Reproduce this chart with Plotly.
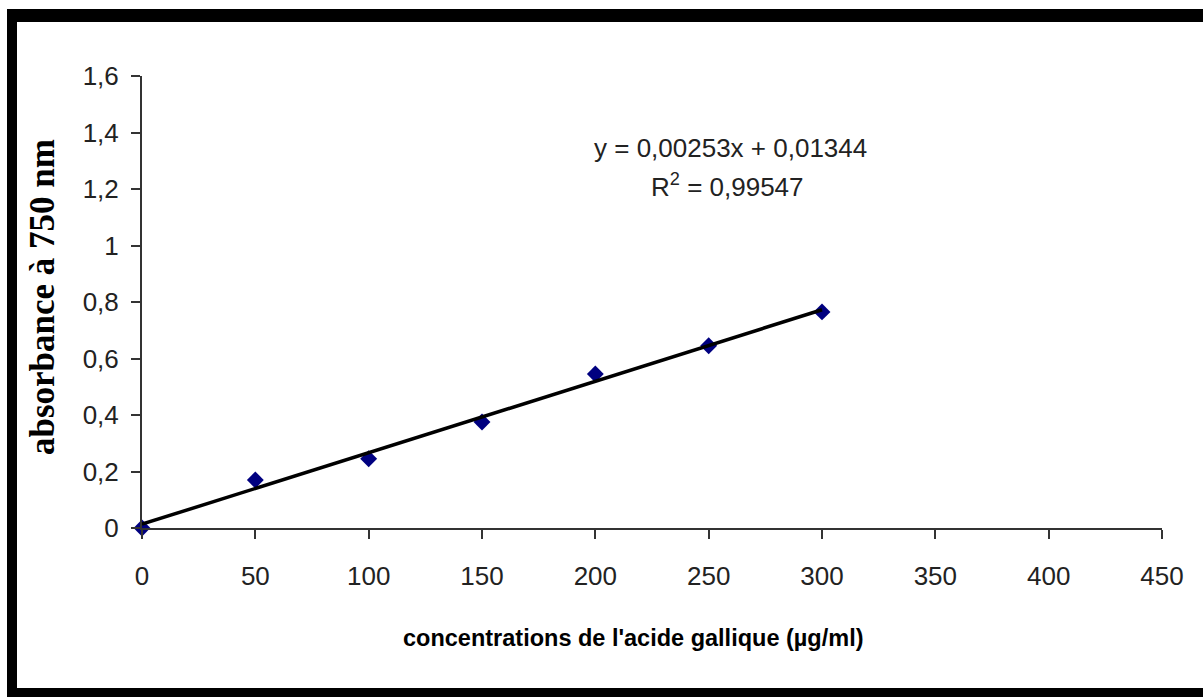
import plotly.graph_objects as go

# Data
concentrations = [0, 50, 100, 150, 200, 250, 300]
absorbance = [0.0, 0.17, 0.245, 0.375, 0.545, 0.645, 0.765]
slope = 0.00253
intercept = 0.01344
r_squared = 0.99547
x_ticks = [0, 50, 100, 150, 200, 250, 300, 350, 400, 450]
y_ticks = [0, 0.2, 0.4, 0.6, 0.8, 1.0, 1.2, 1.4, 1.6]

W, H = 1203, 697
L, R, T, B = 142, 1162, 76, 528

def px(x):
    return (x - L) / (R - L)

def py(y):
    return (B - y) / (B - T)

narrow = "Liberation Sans Narrow, Arial Narrow, Liberation Sans, Arial, sans-serif"

fig = go.Figure()
fig.add_trace(go.Scatter(
    x=concentrations, y=absorbance, mode="markers",
    marker=dict(symbol="diamond", size=13, color="#000080"),
    cliponaxis=False, showlegend=False,
))
fit_x = [concentrations[0], concentrations[-1]]
fit_y = [slope * v + intercept for v in fit_x]
fig.add_trace(go.Scatter(
    x=fit_x, y=fit_y, mode="lines",
    line=dict(color="black", width=3.5),
    cliponaxis=False, showlegend=False,
))

fig.update_layout(
    width=W, height=H, autosize=False,
    margin=dict(l=L, r=W - R, t=T, b=H - B, pad=0),
    paper_bgcolor="white", plot_bgcolor="white",
    separators=", ",
    font=dict(family=narrow, size=26, color="#222"),
    xaxis=dict(
        range=[0, 450], tickvals=x_ticks, showgrid=False, zeroline=False,
        showline=True, linecolor="#333", linewidth=2,
        ticks="outside", ticklen=9, tickwidth=2, tickcolor="#333",
        ticklabelstandoff=15,
        tickfont=dict(family=narrow, size=26, color="#222"),
    ),
    yaxis=dict(
        range=[0, 1.6], tickvals=y_ticks, showgrid=False, zeroline=False,
        showline=True, linecolor="#333", linewidth=2,
        ticks="outside", ticklen=9, tickwidth=2, tickcolor="#333",
        ticklabelstandoff=7,
        tickfont=dict(family=narrow, size=26, color="#222"),
    ),
    annotations=[
        dict(text="concentrations de l'acide gallique (µg/ml)",
             xref="paper", yref="paper", x=px(633), y=py(638),
             showarrow=False, xanchor="center", yanchor="middle",
             font=dict(family=narrow, size=23.5, color="black", weight="bold")),
        dict(text="absorbance à 750 nm", textangle=-90,
             xref="paper", yref="paper", x=px(42), y=py(297),
             showarrow=False, xanchor="center", yanchor="middle",
             font=dict(family="Liberation Serif, Times New Roman, serif", size=35,
                       color="black", weight="bold")),
        dict(text=f"y = {slope:.5f}x + {intercept:.5f}".replace(".", ","),
             xref="paper", yref="paper", x=px(730.5), y=py(148),
             showarrow=False, xanchor="center", yanchor="middle",
             font=dict(family=narrow, size=26, color="#222")),
        dict(text=f"R<sup>2</sup> = {r_squared:.5f}".replace(".", ","),
             xref="paper", yref="paper", x=px(727.5), y=py(185),
             showarrow=False, xanchor="center", yanchor="middle",
             font=dict(family=narrow, size=26, color="#222")),
    ],
    shapes=[
        dict(type="rect", xref="paper", yref="paper", x0=px(7), x1=px(1203),
             y0=py(9), y1=py(22), fillcolor="black", line=dict(width=0)),
        dict(type="rect", xref="paper", yref="paper", x0=px(7), x1=px(17),
             y0=py(9), y1=py(697), fillcolor="black", line=dict(width=0)),
        dict(type="rect", xref="paper", yref="paper", x0=px(7), x1=px(1203),
             y0=py(688), y1=py(697), fillcolor="black", line=dict(width=0)),
    ],
)

fig.write_html("out.html")
